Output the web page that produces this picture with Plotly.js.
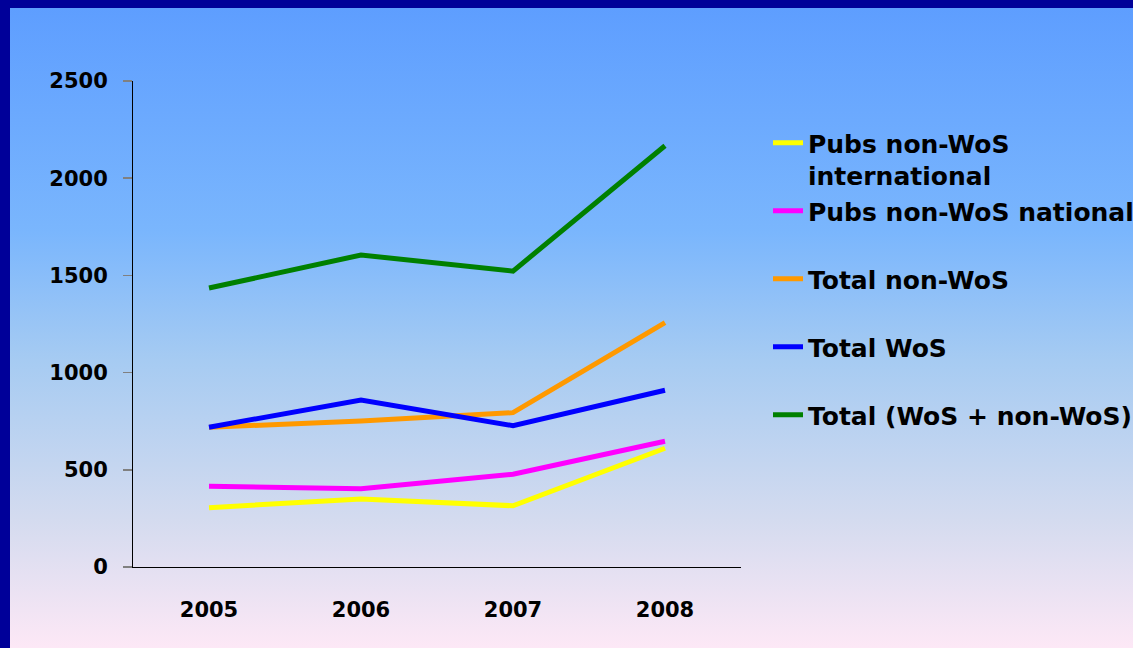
<!DOCTYPE html>
<html>
<head>
<meta charset="utf-8">
<script src="https://cdn.plot.ly/plotly-3.0.1.min.js"></script>
<style>
  html, body { margin: 0; padding: 0; width: 1133px; height: 648px; overflow: hidden; }
  #wrap {
    position: absolute; left: 0; top: 0; width: 1123px; height: 640px;
    border-left: 10px solid #000099; border-top: 8px solid #000099;
    background: linear-gradient(to bottom, #5e9eff 0%, #7ab6fd 35%, #a6cbf2 55%, #d4dbef 80%, #fde8f6 100%);
  }
  #chart { width: 1123px; height: 640px; }
</style>
</head>
<body>
<div id="wrap"><div id="chart"></div></div>
<script>
const years = ["2005", "2006", "2007", "2008"];
const seriesNames = [
  "Pubs non-WoS<br>international",
  "Pubs non-WoS national<br> ",
  "Total non-WoS<br> ",
  "Total WoS<br> ",
  "Total (WoS + non-WoS)<br> "
];
const pubsNonWosInternational = [305, 350, 315, 611];
const pubsNonWosNational = [415, 403, 477, 647];
const totalNonWos = [719, 751, 794, 1257];
const totalWos = [719, 859, 727, 909];
const totalAll = [1435, 1605, 1522, 2167];
const colors = ["#ffff00", "#ff00ff", "#ff9900", "#0000ff", "#008000"];
const yTicks = [0, 500, 1000, 1500, 2000, 2500];

const values = [pubsNonWosInternational, pubsNonWosNational, totalNonWos, totalWos, totalAll];
const traces = values.map((v, i) => ({
  x: years, y: v, name: seriesNames[i], type: "scatter", mode: "lines",
  line: { color: colors[i], width: 5 }
}));

const fontFam = "DejaVu Sans, sans-serif";
const layout = {
  width: 1123, height: 640,
  paper_bgcolor: "rgba(0,0,0,0)", plot_bgcolor: "rgba(0,0,0,0)",
  margin: { l: 123, r: 392, t: 73, b: 81, autoexpand: false },
  font: { family: fontFam, color: "#000000" },
  xaxis: {
    type: "category", range: [-0.5, 3.5],
    showline: true, linecolor: "#000000", linewidth: 1,
    showgrid: false, zeroline: false,
    ticks: "outside", ticklen: 24, tickcolor: "rgba(0,0,0,0)",
    tickfont: { family: fontFam, size: 21, weight: 700, color: "#000" }
  },
  yaxis: {
    range: [0, 2500], tickvals: yTicks, ticktext: yTicks.map(String),
    showline: true, linecolor: "#000000", linewidth: 1,
    showgrid: false, zeroline: false,
    ticks: "outside", ticklen: 9, tickcolor: "#808080", tickwidth: 1.5,
    ticklabelstandoff: 11,
    tickfont: { family: fontFam, size: 21, weight: 700, color: "#000" }
  },
  showlegend: true,
  legend: {
    x: (758 - 123) / 608, xanchor: "left", xref: "paper",
    y: 1 - (112 - 73) / 486, yanchor: "top", yref: "paper",
    bgcolor: "rgba(0,0,0,0)", borderwidth: 0,
    valign: "top",
    font: { family: fontFam, size: 25, weight: 700, color: "#000" }
  }
};

Plotly.newPlot("chart", traces, layout, { displayModeBar: false, staticPlot: true });
</script>
</body>
</html>
